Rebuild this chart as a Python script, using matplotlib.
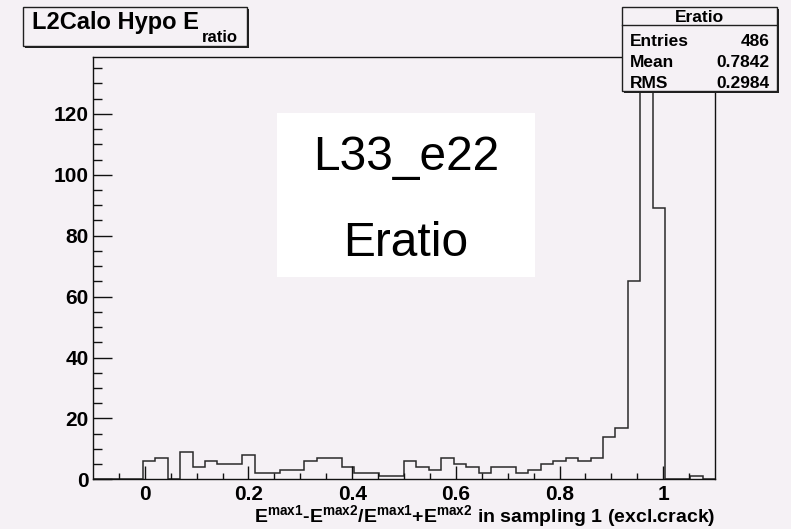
import numpy as np
import matplotlib
matplotlib.use('Agg')
import matplotlib.pyplot as plt
from matplotlib.patches import Rectangle

# Eratio histogram, 50 bins from -0.1 to 1.1
xmin, xmax, nbins = -0.1, 1.1, 50
counts = [0, 0, 0, 0, 6, 7, 0, 9, 4, 6,
          5, 5, 8, 2, 2, 3, 3, 6, 7, 7,
          4, 2, 2, 1, 1, 6, 4, 3, 7, 5,
          4, 2, 4, 4, 2, 3, 5, 6, 7, 6,
          7, 14, 17, 65, 132, 89, 0, 0, 1, 0]
xticks = [0, 0.2, 0.4, 0.6, 0.8, 1.0]
xticklabels = ['0', '0.2', '0.4', '0.6', '0.8', '1']
yticks = [0, 20, 40, 60, 80, 100, 120]

title = 'L2Calo Hypo E'
title_sub = 'ratio'
stat_name = 'Eratio'
stat_rows = [('Entries', '486'), ('Mean', '0.7842'), ('RMS', '0.2984')]
overlay_lines = ['L33_e22', 'Eratio']
xlabel = (r'$\mathrm{E^{max1}\text{-}E^{max2}/E^{max1}\text{+}E^{max2}}$'
          ' in sampling 1 (excl.crack)')

W, H = 791, 529
bg = '#f5f1f5'
ink = '#111111'

plt.rcParams['font.family'] = ['Liberation Sans', 'DejaVu Sans']
plt.rcParams['font.weight'] = 'bold'
plt.rcParams['mathtext.fontset'] = 'custom'
plt.rcParams['mathtext.rm'] = 'Liberation Sans:bold'
plt.rcParams['mathtext.bf'] = 'Liberation Sans:bold'
plt.rcParams['mathtext.it'] = 'Liberation Sans:bold'

def fx(x):
  return x / W

def fy(y):
  return 1 - y / H

fig = plt.figure(figsize=(W / 100, H / 100), dpi=100, facecolor=bg)

left, right, top, bottom = 93, 715, 57.3, 479.3
ax = fig.add_axes([fx(left), fy(bottom), (right - left) / W, (bottom - top) / H])
ax.set_facecolor(bg)

edges = np.linspace(xmin, xmax, nbins + 1)
ax.stairs(counts, edges, color='#2a2a2a', lw=1.1, baseline=0)

ax.set_xlim(xmin, xmax)
ax.set_ylim(0, max(counts) * 1.05)

ax.set_xticks(xticks)
ax.set_xticklabels(xticklabels)
ax.set_xticks(np.arange(-0.05, 1.1, 0.05), minor=True)
ax.set_yticks(yticks)
ax.set_yticks(np.arange(0, 136, 5), minor=True)
ax.tick_params(axis='x', which='major', direction='in', length=9.1, width=1, pad=4,
               labelsize=15, color=ink)
ax.tick_params(axis='x', which='minor', direction='in', length=4.6, width=1, color=ink)
ax.tick_params(axis='y', which='major', direction='in', length=13.5, width=1, pad=3,
               labelsize=15, color=ink)
ax.tick_params(axis='y', which='minor', direction='in', length=6.8, width=1, color=ink)
for lab in ax.get_xticklabels() + ax.get_yticklabels():
  lab.set_fontweight('bold')
for s in ax.spines.values():
  s.set_color(ink)
  s.set_linewidth(1)

ax.set_xlabel(xlabel, fontsize=14, fontweight='bold', ha='right', va='baseline')
ax.xaxis.set_label_coords(1.0, -(521.7 - bottom) / (bottom - top))

# white text panel
ax_panel = Rectangle((fx(276.7), fy(276.7)), (535 - 276.7) / W, (276.7 - 112.7) / H,
                     transform=fig.transFigure, facecolor='white', edgecolor='none', zorder=5)
fig.patches.append(ax_panel)
fig.text(fx(406), fy(170), overlay_lines[0], fontsize=34.5, fontweight='normal',
         ha='center', va='baseline', zorder=6)
fig.text(fx(406), fy(256), overlay_lines[1], fontsize=34.5, fontweight='normal',
         ha='center', va='baseline', zorder=6)

def shadow_box(x0, y0, x1, y1):
  fig.patches.append(Rectangle((fx(x0 + 2), fy(y1 + 2)), (x1 - x0) / W, (y1 - y0) / H,
                               transform=fig.transFigure, facecolor='#202020',
                               edgecolor='none', zorder=7))
  fig.patches.append(Rectangle((fx(x0), fy(y1)), (x1 - x0) / W, (y1 - y0) / H,
                               transform=fig.transFigure, facecolor=bg,
                               edgecolor='#202020', lw=1, zorder=8))

# title box
shadow_box(22.7, 7.3, 246.5, 45.5)
fig.text(fx(31.5), fy(28.5), title, fontsize=17, fontweight='bold',
         ha='left', va='baseline', zorder=9)
fig.text(fx(202), fy(42.5), title_sub, fontsize=12, fontweight='bold',
         ha='left', va='baseline', zorder=9)

# stats box
shadow_box(621.7, 7.3, 776.5, 90.5)
fig.lines.append(plt.Line2D([fx(621.7), fx(776.5)], [fy(25), fy(25)],
                            transform=fig.transFigure, color='#202020', lw=1, zorder=9))
fig.text(fx(699), fy(22.5), stat_name, fontsize=12.5, fontweight='bold',
         ha='center', va='baseline', zorder=9)
for i, (name, val) in enumerate(stat_rows):
  yb = 46 + i * 21
  fig.text(fx(629.5), fy(yb), name, fontsize=12.5, fontweight='bold',
           ha='left', va='baseline', zorder=9)
  fig.text(fx(769.5), fy(yb), val, fontsize=12.5, fontweight='bold',
           ha='right', va='baseline', zorder=9)

fig.savefig('out.png', dpi=100, facecolor=bg)
